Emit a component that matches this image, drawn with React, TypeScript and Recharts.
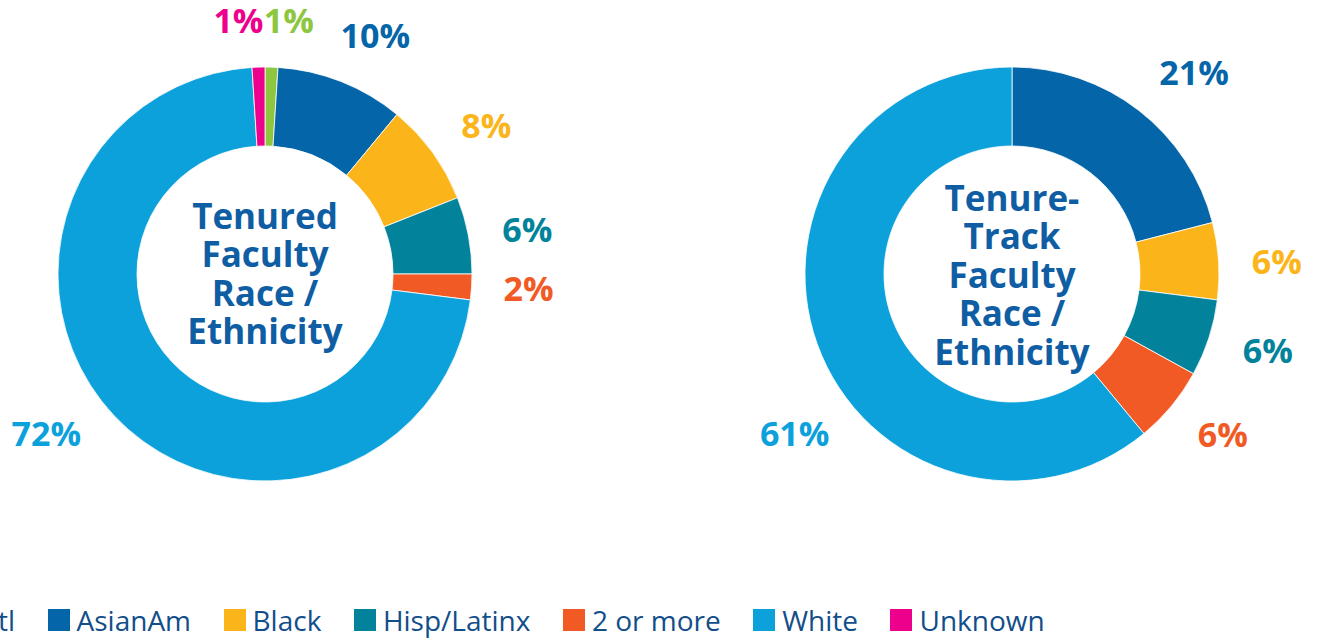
import React from 'react';
import { PieChart, Pie, Cell, Label } from 'recharts';

// ---- data ----
const categories = ['Intl', 'AsianAm', 'Black', 'Hisp/Latinx', '2 or more', 'White', 'Unknown'];
const colors = ['#8DC63F', '#0565A9', '#FBB51A', '#02839B', '#F15A24', '#0DA1DC', '#EC008C'];
const tenuredValues = [1, 10, 8, 6, 2, 72, 1];
const tenureTrackValues = [0, 21, 6, 6, 6, 61, 0];
const tenuredTitle = ['Tenured', 'Faculty', 'Race /', 'Ethnicity'];
const tenureTrackTitle = ['Tenure-', 'Track', 'Faculty', 'Race /', 'Ethnicity'];

// ---- layout ----
const LEFT_CX = 265;
const RIGHT_CX = 1012;
const PIE_CY = 274;

// label placement tweaks (angle offset in degrees, radius)
const tenuredLabelLayout: Record<string, [number, number]> = {
  Intl: [3.6, 254],
  AsianAm: [3.3, 262],
  Black: [2.3, 266],
  'Hisp/Latinx': [1.2, 266],
  '2 or more': [-0.4, 264],
  White: [7, 271],
  Unknown: [-4.2, 254],
};
const tenureTrackLabelLayout: Record<string, [number, number]> = {
  AsianAm: [4.4, 271],
  Black: [1, 265],
  'Hisp/Latinx': [-1.3, 267],
  '2 or more': [-2.3, 265],
  White: [-16.6, 270],
};

const FONT = '"Open Sans", sans-serif';
const TITLE_COLOR = '#0F5EA4';

const buildData = (values: number[]) =>
  categories
    .map((name, i) => ({ name, value: values[i], color: colors[i] }))
    .filter((d) => d.value > 0);

const makeLabel = (layout: Record<string, [number, number]>) => (props: any) => {
  const { cx, cy, midAngle } = props;
  const name = props.payload?.name ?? props.name;
  const value = props.payload?.value ?? props.value;
  const color = props.payload?.color ?? props.fill;
  const [dA, r] = layout[name] || [0, 265];
  const theta = ((90 - midAngle + dA) * Math.PI) / 180;
  const x = cx + r * Math.sin(theta);
  const y = cy - r * Math.cos(theta);
  return (
    <text
      x={x}
      y={y + 12}
      textAnchor="middle"
      fill={color}
      style={{ fontFamily: FONT, fontWeight: 700, fontSize: 34 }}
    >
      {`${value}%`}
    </text>
  );
};

const makeCenter = (lines: string[], cx: number, cy: number) => () => {
  const lh = 38.5;
  const n = lines.length;
  return (
    <g>
      {lines.map((t, i) => (
        <text
          key={i}
          x={cx}
          y={cy + (i - (n - 1) / 2) * lh + 12.5}
          textAnchor="middle"
          fill={TITLE_COLOR}
          style={{ fontFamily: FONT, fontWeight: 700, fontSize: 35 }}
        >
          {t}
        </text>
      ))}
    </g>
  );
};

export default function App() {
  const left = buildData(tenuredValues);
  const right = buildData(tenureTrackValues);
  return (
    <div
      style={{
        position: 'absolute',
        left: 0,
        top: 0,
        width: 1317,
        height: 638,
        overflow: 'hidden',
        background: '#fff',
      }}
    >
      <div style={{ position: 'absolute', left: 0, top: 0 }}>
        <PieChart width={1317} height={595} margin={{ top: 0, right: 0, bottom: 0, left: 0 }}>
          <Pie
            data={left}
            dataKey="value"
            nameKey="name"
            cx={LEFT_CX}
            cy={PIE_CY}
            innerRadius={128}
            outerRadius={207}
            startAngle={90}
            endAngle={-270}
            stroke="#fff"
            strokeWidth={0.8}
            labelLine={false}
            label={makeLabel(tenuredLabelLayout)}
            isAnimationActive={false}
          >
            {left.map((d) => (
              <Cell key={d.name} fill={d.color} />
            ))}
            <Label position="center" content={makeCenter(tenuredTitle, LEFT_CX, PIE_CY)} />
          </Pie>
          <Pie
            data={right}
            dataKey="value"
            nameKey="name"
            cx={RIGHT_CX}
            cy={PIE_CY}
            innerRadius={128}
            outerRadius={207}
            startAngle={90}
            endAngle={-270}
            stroke="#fff"
            strokeWidth={0.8}
            labelLine={false}
            label={makeLabel(tenureTrackLabelLayout)}
            isAnimationActive={false}
          >
            {right.map((d) => (
              <Cell key={d.name} fill={d.color} />
            ))}
            <Label position="center" content={makeCenter(tenureTrackTitle, RIGHT_CX, PIE_CY + 1)} />
          </Pie>
        </PieChart>
      </div>
      <div
        style={{
          position: 'absolute',
          left: -56,
          top: 601,
          display: 'flex',
          alignItems: 'center',
          whiteSpace: 'nowrap',
          fontFamily: FONT,
          fontSize: 28,
          color: '#124E8A',
          lineHeight: '38px',
        }}
      >
        {categories.map((c, i) => (
          <div key={c} style={{ display: 'flex', alignItems: 'center', marginRight: 32.5 }}>
            <div style={{ width: 22, height: 22, background: colors[i], marginRight: 7 }} />
            <span>{c}</span>
          </div>
        ))}
      </div>
    </div>
  );
}
